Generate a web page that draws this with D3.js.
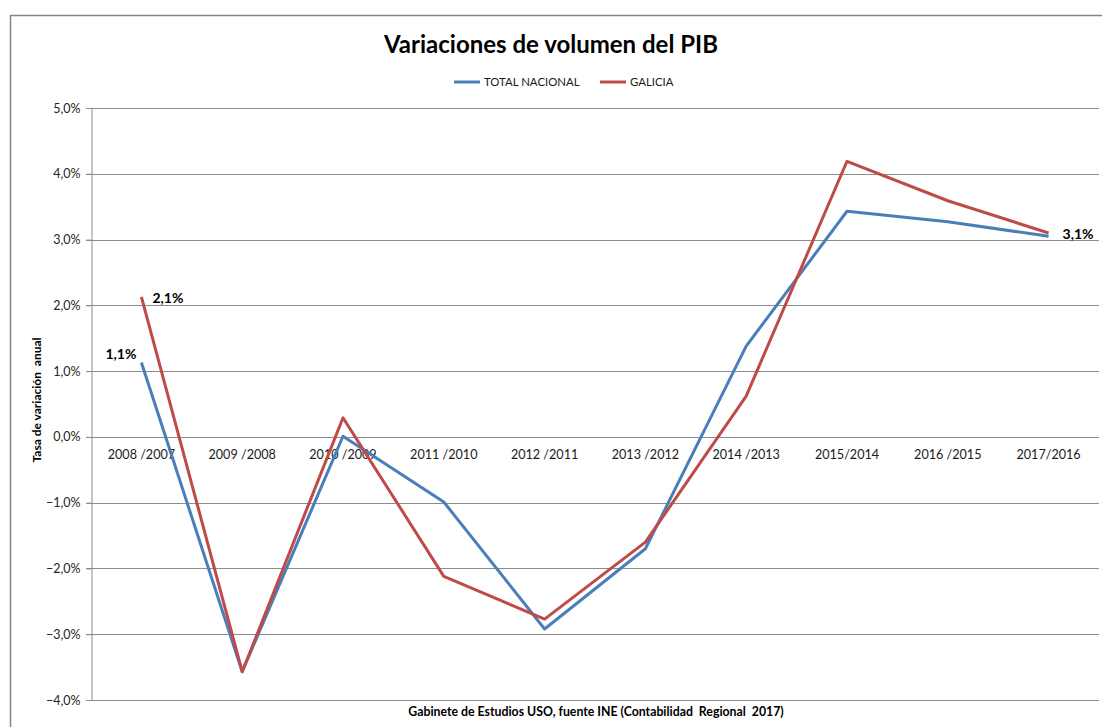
<!DOCTYPE html>
<html>
<head>
<meta charset="utf-8">
<script src="https://cdn.jsdelivr.net/npm/d3@7"></script>
<style>
	body { margin: 0; background: #fff; }
	text { font-family: Lato, "Open Sans", sans-serif; }
</style>
</head>
<body>
<svg id="chart-svg"></svg>
<script>
'use strict'

var WIDTH = 1102,
	HEIGHT = 727;

var categories = ["2008 /2007", "2009 /2008", "2010 /2009", "2011 /2010", "2012 /2011",
	"2013 /2012", "2014 /2013", "2015/2014", "2016 /2015", "2017/2016"];

var totalNacional = [1.13, -3.57, 0.01, -0.99, -2.92, -1.70, 1.38, 3.43, 3.27, 3.05];
var galicia = [2.13, -3.57, 0.29, -2.12, -2.77, -1.60, 0.62, 4.19, 3.59, 3.10];

var seriesNames = ["TOTAL NACIONAL", "GALICIA"];
var yTicks = [5, 4, 3, 2, 1, 0, -1, -2, -3, -4];

// labelled points: [series, index, text]
var pointLabels = [["TOTAL NACIONAL", 0, "1,1%"], ["GALICIA", 0, "2,1%"], ["GALICIA", 9, "3,1%"]];

var blueColor = "#4a7ebb",
	redColor = "#be4b48",
	gridColor = "#8c8c8c";

var plot = { left: 91, right: 1099, top: 108, bottom: 700 };

var svg = d3.select("#chart-svg")
	.attr("width", WIDTH)
	.attr("height", HEIGHT)

// outer chart border
svg.append("path")
	.attr("d", "M10.5," + (HEIGHT + 5) + "V15.5H" + (WIDTH + 5))
	.style("fill", "none")
	.style("stroke", "#868686")
	.style("stroke-width", 1.5)

var x = d3.scaleBand()
	.domain(categories)
	.range([plot.left, plot.right])

var y = d3.scaleLinear()
	.domain([-4, 5])
	.range([plot.bottom, plot.top])

var fmt = function(v) { return d3.format(".1f")(v).replace(".", ",") + "%" }
var cx = function(i) { return x(categories[i]) + x.bandwidth() / 2 }

// gridlines
svg.append("g")
	.selectAll("line")
	.data(yTicks)
	.join("line")
	.attr("x1", plot.left - 5)
	.attr("x2", plot.right)
	.attr("y1", function(d) { return Math.round(y(d)) + 0.5 })
	.attr("y2", function(d) { return Math.round(y(d)) + 0.5 })
	.style("stroke", gridColor)
	.style("stroke-width", 1)

// y axis
var yAxis = svg.append("g")
	.attr("transform", "translate(" + (plot.left + 0.5) + ",0)")
	.call(d3.axisLeft(y).tickValues(yTicks).tickSize(5).tickFormat(fmt))

yAxis.select(".domain").style("stroke", gridColor)
yAxis.selectAll(".tick line").style("stroke", gridColor)
yAxis.selectAll(".tick text")
	.attr("x", -11)
	.style("font-family", "Lato, sans-serif")
	.style("font-size", "12.5px")
	.style("fill", "#262626")

// category labels under the zero line
svg.append("g")
	.selectAll("text")
	.data(categories)
	.join("text")
	.attr("x", function(d, i) { return cx(i) })
	.attr("y", y(0) + 22)
	.attr("text-anchor", "middle")
	.style("font-size", "12.6px")
	.style("fill", "#1a1a1a")
	.text(function(d) { return d })

// lines
var line = d3.line()
	.x(function(d, i) { return cx(i) })
	.y(function(d) { return y(d) })

var seriesData = [totalNacional, galicia];
var seriesColors = [blueColor, redColor];

svg.append("g")
	.selectAll("path")
	.data(seriesData)
	.join("path")
	.attr("d", line)
	.style("fill", "none")
	.style("stroke", function(d, i) { return seriesColors[i] })
	.style("stroke-width", 3)
	.style("stroke-linejoin", "round")

// data labels
svg.append("g")
	.selectAll("text")
	.data(pointLabels)
	.join("text")
	.attr("x", function(d) {
		if (d[0] === "TOTAL NACIONAL") return cx(d[1]) - 5
		return cx(d[1]) + (d[1] === 0 ? 11 : 14)
	})
	.attr("y", function(d) {
		var v = (d[0] === "GALICIA" ? galicia : totalNacional)[d[1]]
		return d[0] === "TOTAL NACIONAL" ? y(v) - 4 : y(v) + 6
	})
	.attr("text-anchor", function(d) { return d[0] === "TOTAL NACIONAL" ? "end" : "start" })
	.style("font-size", "14px")
	.style("font-weight", "bold")
	.style("fill", "#000")
	.text(function(d) { return d[2] })

// title
svg.append("text")
	.attr("x", 551)
	.attr("y", 53)
	.attr("text-anchor", "middle")
	.style("font-size", "24px")
	.style("font-weight", "bold")
	.style("fill", "#000")
	.text("Variaciones de volumen del PIB")

// legend
var legend = svg.append("g")
	.selectAll("g")
	.data(seriesNames)
	.join("g")
	.attr("transform", function(d, i) { return "translate(" + (i === 0 ? 454 : 600) + ",82)" })

legend.append("line")
	.attr("x1", 0)
	.attr("x2", 26)
	.style("stroke", function(d, i) { return seriesColors[i] })
	.style("stroke-width", 3)

legend.append("text")
	.attr("x", 30)
	.attr("y", 4)
	.style("font-size", "11.4px")
	.style("fill", "#1a1a1a")
	.text(function(d) { return d })

// y axis title
svg.append("text")
	.attr("transform", "translate(41,400) rotate(-90)")
	.attr("text-anchor", "middle")
	.style("font-size", "12px")
	.style("font-weight", "bold")
	.style("fill", "#000")
	.style("white-space", "pre")
	.text("Tasa de variación  anual")

// source note
svg.append("text")
	.attr("x", 596)
	.attr("y", 716)
	.attr("text-anchor", "middle")
	.style("font-size", "12.3px")
	.style("font-weight", "bold")
	.style("fill", "#000")
	.style("white-space", "pre")
	.text("Gabinete de Estudios USO, fuente INE (Contabilidad  Regional  2017)")
</script>
</body>
</html>
